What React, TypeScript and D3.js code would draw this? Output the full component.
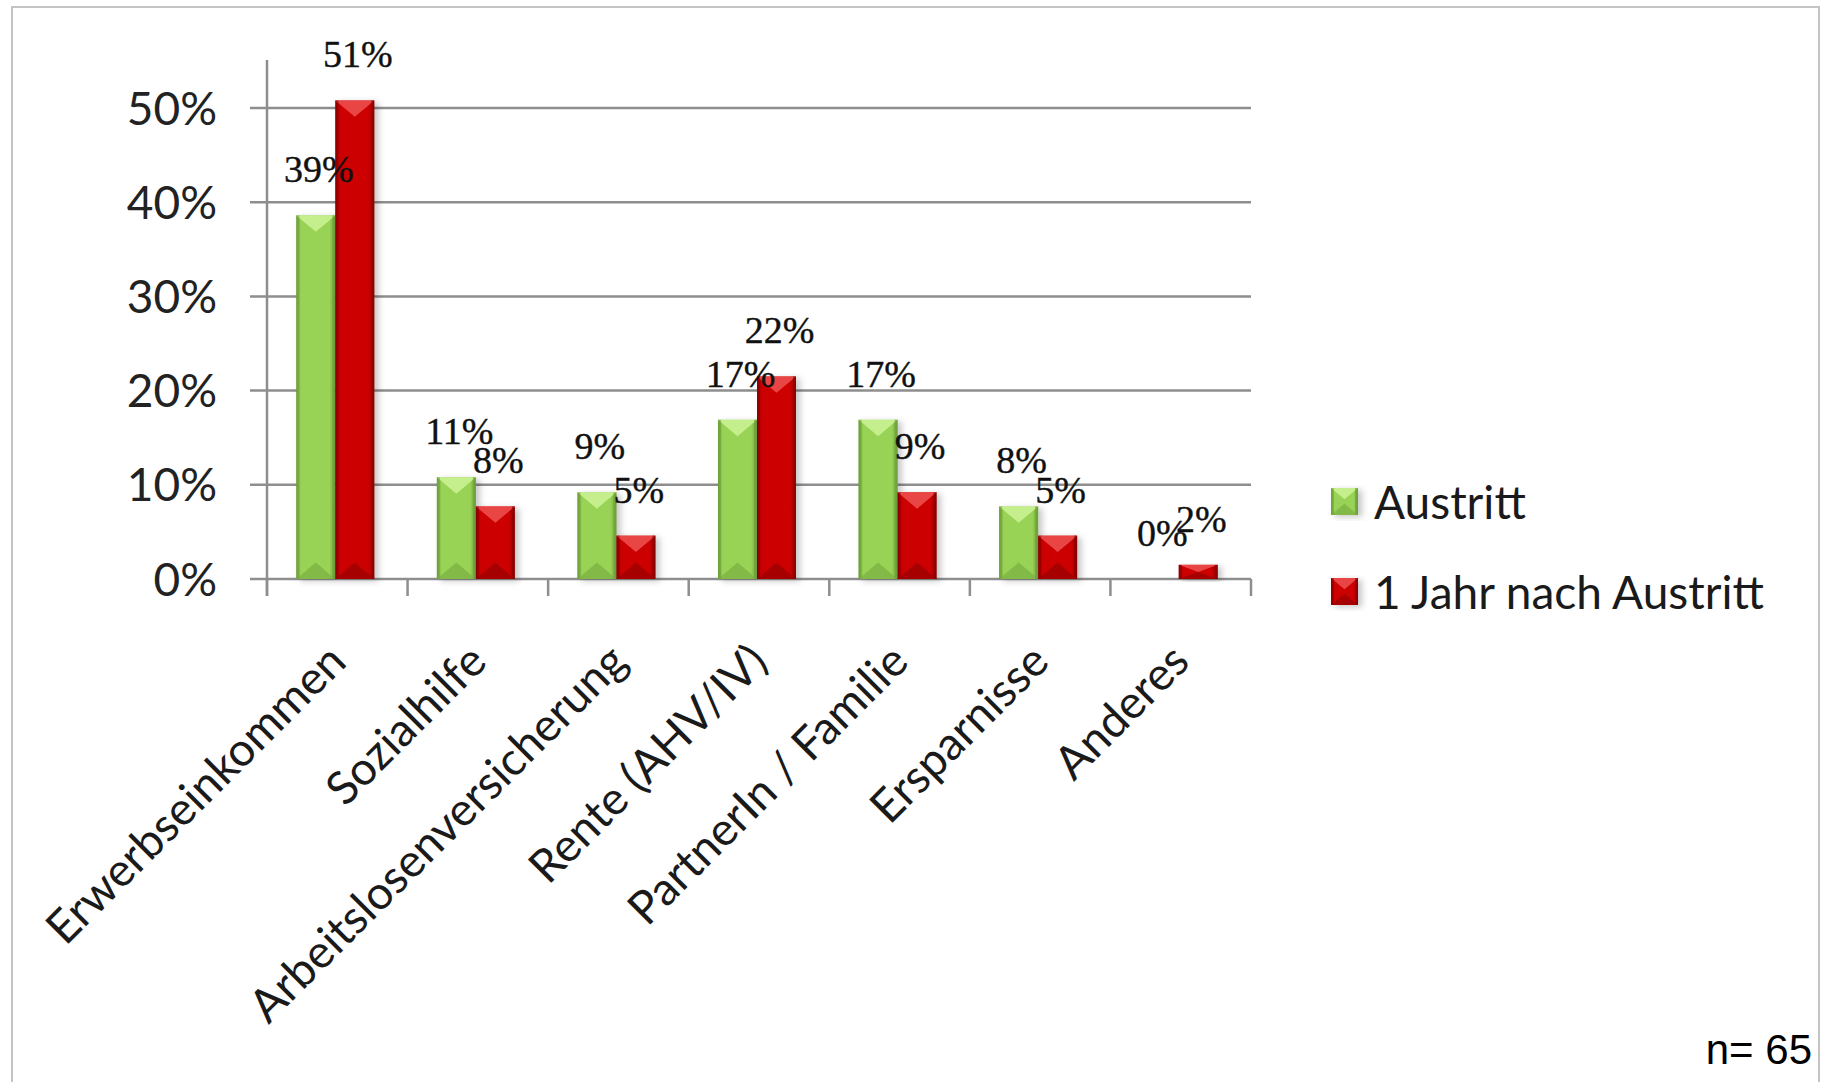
import React from "react";
import * as d3 from "d3";

const categories = [
  "Erwerbseinkommen",
  "Sozialhilfe",
  "Arbeitslosenversicherung",
  "Rente (AHV/IV)",
  "PartnerIn / Familie",
  "Ersparnisse",
  "Anderes",
];
const seriesNames = ["Austritt", "1 Jahr nach Austritt"];
const austritt = [38.6, 10.8, 9.2, 16.9, 16.9, 7.7, 0];
const nachJahr = [50.8, 7.7, 4.6, 21.5, 9.2, 4.6, 1.5];
const yTicks = [0, 10, 20, 30, 40, 50];
const sampleNote = "n= 65";

const W = 1823;
const H = 1082;
const plotLeft = 267;
const plotRight = 1251;
const plotBottom = 579;
const plotTop50 = 108;

const palettes = [
  { main: "#98d356", light: "#caf192", dark: "#7fb444", edge: "#6e9e38" },
  { main: "#cc0202", light: "#ec4d4d", dark: "#a00000", edge: "#8a0000" },
];

function BevelBar({ x, y, w, h, p, gid }: any) {
  if (h <= 0) return null;
  const d = Math.min(w * 0.42, h / 2);
  const e = Math.min(3, w / 6);
  return (
    <g filter="url(#shadow)">
      <rect x={x} y={y} width={w} height={h} fill={`url(#${gid})`} />
      <polygon
        points={`${x},${y} ${x + w},${y} ${x + w / 2},${y + d}`}
        fill={p.light}
        opacity={0.9}
      />
      <polygon
        points={`${x},${y + h} ${x + w},${y + h} ${x + w / 2},${y + h - d}`}
        fill={p.dark}
        opacity={0.85}
      />
      <rect x={x} y={y} width={e} height={h} fill={p.edge} opacity={0.5} />
      <rect x={x + w - e} y={y} width={e} height={h} fill={p.edge} opacity={0.6} />
    </g>
  );
}

export default function App() {
  const x0 = d3.scaleBand<string>().domain(categories).range([plotLeft, plotRight]);
  const bw = x0.bandwidth();
  const barW = 39;
  const x1 = d3
    .scaleBand<string>()
    .domain(seriesNames)
    .range([bw / 2 - barW - 2, bw / 2 + barW - 2]);
  const y = d3.scaleLinear().domain([0, 50]).range([plotBottom, plotTop50]);
  const data = [austritt, nachJahr];
  const grid = "#8e8e8e";
  const sans = "Lato, 'Open Sans', sans-serif";
  const serif = "'Liberation Serif', 'DejaVu Serif', serif";

  const boundaries = categories.map((c) => x0(c) as number).concat([plotRight]);

  return (
    <svg
      width={W}
      height={H}
      style={{ position: "absolute", left: 0, top: 0, background: "#fff" }}
    >
      <defs>
        {palettes.map((p, i) => (
          <linearGradient key={i} id={`g${i}`} x1="0" x2="1" y1="0" y2="0">
            <stop offset="0" stopColor={p.edge} />
            <stop offset="0.12" stopColor={p.main} />
            <stop offset="0.85" stopColor={p.main} />
            <stop offset="1" stopColor={p.edge} />
          </linearGradient>
        ))}
        <filter id="shadow" x="-20%" y="-10%" width="160%" height="130%">
          <feDropShadow dx="4" dy="2" stdDeviation="3" floodColor="#000" floodOpacity="0.22" />
        </filter>
      </defs>
      <rect x={0} y={0} width={W} height={H} fill="#fff" />
      {/* frame */}
      <rect x={12} y={7} width={1807} height={1200} fill="none" stroke="#c4c4c4" strokeWidth={2} />

      {/* gridlines & y ticks */}
      {yTicks.map((t) => (
        <g key={t}>
          <line x1={plotLeft - 17} x2={plotRight} y1={y(t)} y2={y(t)} stroke={grid} strokeWidth={2.5} />
          <text
            x={217}
            y={y(t)}
            dy="0.36em"
            textAnchor="end"
            fontFamily={sans}
            fontSize={46}
            fill="#222"
          >
            {t}%
          </text>
        </g>
      ))}
      {/* y axis line */}
      <line x1={plotLeft} x2={plotLeft} y1={60} y2={plotBottom + 17} stroke={grid} strokeWidth={2.5} />
      {/* category ticks */}
      {boundaries.map((b, i) => (
        <line key={i} x1={b} x2={b} y1={plotBottom} y2={plotBottom + 17} stroke={grid} strokeWidth={2.5} />
      ))}

      {/* bars */}
      {categories.map((c, ci) =>
        seriesNames.map((s, si) => {
          const v = data[si][ci];
          const bx = (x0(c) as number) + (x1(s) as number);
          const by = y(v);
          return (
            <BevelBar
              key={c + s}
              x={bx}
              y={by}
              w={x1.bandwidth()}
              h={plotBottom - by}
              p={palettes[si]}
              gid={`g${si}`}
            />
          );
        })
      )}

      {/* data labels */}
      {categories.map((c, ci) =>
        seriesNames.map((s, si) => {
          const v = data[si][ci];
          const cx = (x0(c) as number) + (x1(s) as number) + x1.bandwidth() / 2 + 3;
          return (
            <text
              key={"l" + c + s}
              x={cx}
              y={y(v) - 33}
              textAnchor="middle"
              fontFamily={serif}
              fontSize={38}
              fill="#111"
              stroke="#111"
              strokeWidth={0.4}
            >
              {Math.round(v)}%
            </text>
          );
        })
      )}

      {/* category labels */}
      {categories.map((c) => {
        const cx = (x0(c) as number) + bw / 2 + 11;
        const cy = 664;
        return (
          <text
            key={"c" + c}
            x={cx}
            y={cy}
            textAnchor="end"
            transform={`rotate(-45 ${cx} ${cy})`}
            fontFamily={sans}
            fontSize={46}
            fill="#1a1a1a"
          >
            {c}
          </text>
        );
      })}

      {/* legend */}
      {seriesNames.map((s, si) => {
        const ly = 502 + si * 90;
        return (
          <g key={"lg" + s}>
            <BevelBar x={1331} y={ly - 14} w={27} h={27} p={palettes[si]} gid={`g${si}`} />
            <text x={1374} y={ly} dy="0.36em" fontFamily={sans} fontSize={46} fill="#1a1a1a">
              {s}
            </text>
          </g>
        );
      })}

      <text
        x={1812}
        y={1064}
        textAnchor="end"
        fontFamily="'Liberation Sans', Arial, sans-serif"
        fontSize={42}
        fill="#000"
      >
        {sampleNote}
      </text>
    </svg>
  );
}
